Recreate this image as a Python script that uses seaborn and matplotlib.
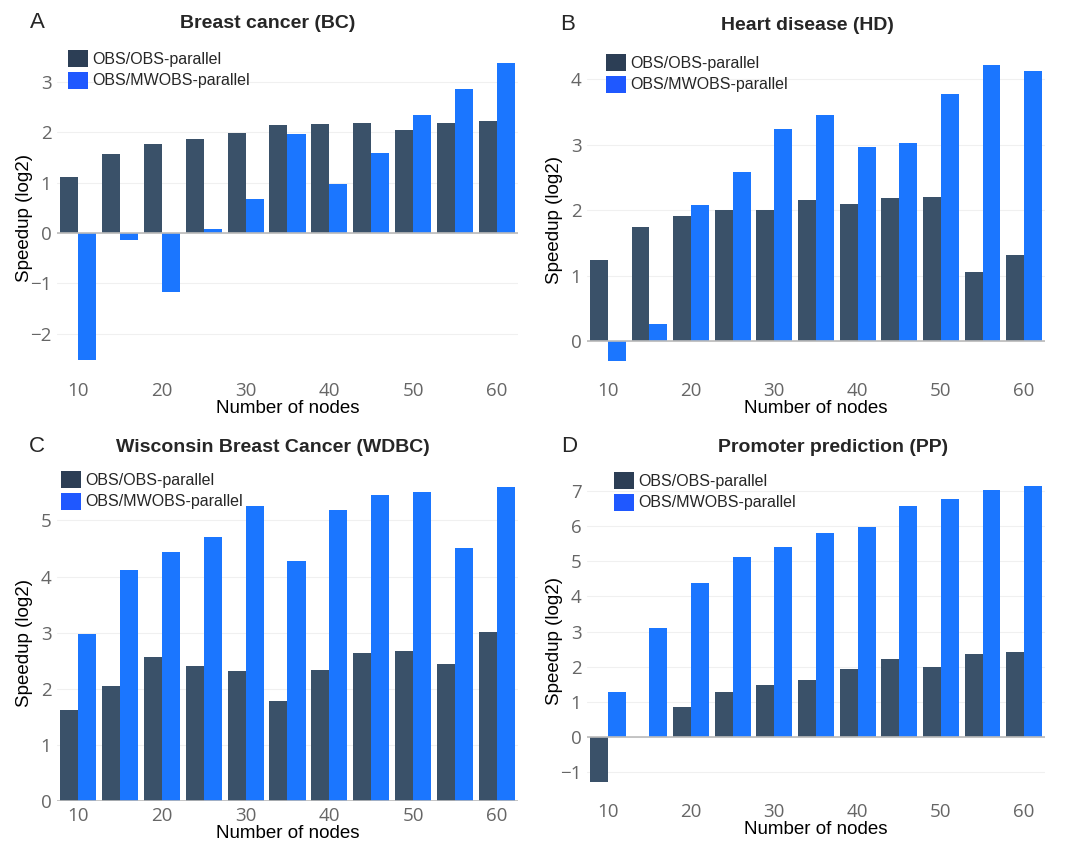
import matplotlib
matplotlib.use('Agg')
import matplotlib.pyplot as plt
import seaborn as sns
import pandas as pd

# number of nodes on the x axis
nodes = [10, 15, 20, 25, 30, 35, 40, 45, 50, 55, 60]
series_names = ['OBS/OBS-parallel', 'OBS/MWOBS-parallel']

# panel A - Breast cancer (BC)
bc_obs = [1.11, 1.56, 1.76, 1.86, 1.99, 2.15, 2.17, 2.19, 2.05, 2.18, 2.22]
bc_mwobs = [-2.53, -0.15, -1.18, 0.08, 0.67, 1.96, 0.97, 1.58, 2.35, 2.85, 3.38]

# panel B - Heart disease (HD)
hd_obs = [1.24, 1.75, 1.91, 2.00, 2.00, 2.155, 2.09, 2.19, 2.21, 1.06, 1.32]
hd_mwobs = [-0.30, 0.265, 2.08, 2.59, 3.25, 3.45, 2.97, 3.03, 3.78, 4.22, 4.13]

# panel C - Wisconsin Breast Cancer (WDBC)
wdbc_obs = [1.62, 2.05, 2.56, 2.41, 2.31, 1.79, 2.34, 2.64, 2.68, 2.44, 3.01]
wdbc_mwobs = [2.97, 4.12, 4.44, 4.71, 5.25, 4.28, 5.18, 5.46, 5.51, 4.51, 5.59]

# panel D - Promoter prediction (PP)
pp_obs = [-1.29, 0.01, 0.845, 1.29, 1.48, 1.63, 1.92, 2.21, 2.00, 2.36, 2.41]
pp_mwobs = [1.28, 3.11, 4.37, 5.12, 5.41, 5.80, 5.97, 6.57, 6.78, 7.04, 7.15]

BAR_COLORS = ['#3a5169', '#1b76ff']
LEGEND_COLORS = ['#2c3e55', '#1f58ff']
TICK_FONT = 'Open Sans'
TEXT_FONT = 'Liberation Sans'


def long_frame(obs, mwobs):
    return pd.DataFrame({
        'nodes': nodes * 2,
        'speedup': list(obs) + list(mwobs),
        'series': [series_names[0]] * len(nodes) + [series_names[1]] * len(nodes),
    })


sns.set_theme(style='white')
plt.rcParams['font.family'] = [TEXT_FONT, 'DejaVu Sans']

fig = plt.figure(figsize=(10.73, 8.44), dpi=100)
W, H = 1073.0, 844.0

# (left, right, top, bottom) in pixels, y range, ticks, title, letter info
panels = [
    dict(box=(57, 518, 47, 376), data=(bc_obs, bc_mwobs), ylim=(-2.84, 3.69),
         yticks=[-2, -1, 0, 1, 2, 3], title='Breast cancer (BC)', title_xy=(268, 23),
         letter='A', letter_xy=(37, 22), legend_xy=(68, 50), ylabel_x=33),
    dict(box=(587, 1045, 50, 376), data=(hd_obs, hd_mwobs), ylim=(-0.53, 4.45),
         yticks=[0, 1, 2, 3, 4], title='Heart disease (HD)', title_xy=(807, 26),
         letter='B', letter_xy=(568, 25), legend_xy=(606, 54), ylabel_x=563),
    dict(box=(57, 518, 471, 801), data=(wdbc_obs, wdbc_mwobs), ylim=(0, 5.88),
         yticks=[0, 1, 2, 3, 4, 5], title='Wisconsin Breast Cancer (WDBC)', title_xy=(273, 447),
         letter='C', letter_xy=(37, 447), legend_xy=(61, 471), ylabel_x=33),
    dict(box=(587, 1045, 471, 797), data=(pp_obs, pp_mwobs), ylim=(-1.71, 7.57),
         yticks=[-1, 0, 1, 2, 3, 4, 5, 6, 7], title='Promoter prediction (PP)', title_xy=(833, 447),
         letter='D', letter_xy=(569, 447), legend_xy=(614, 472), ylabel_x=563),
]

for p in panels:
    l, r, t, b = p['box']
    ax = fig.add_axes([l / W, (H - b) / H, (r - l) / W, (b - t) / H])
    df = long_frame(*p['data'])
    sns.barplot(data=df, x='nodes', y='speedup', hue='series', hue_order=series_names,
                palette=BAR_COLORS, saturation=1, native_scale=True, width=0.86,
                linewidth=0, errorbar=None, ax=ax, zorder=2)

    ax.set_xlim(7.5, 62.5)
    ax.set_ylim(*p['ylim'])
    ax.set_xticks([10, 20, 30, 40, 50, 60])
    ax.set_yticks(p['yticks'])
    ax.set_yticklabels(['\u2212' + str(abs(v)) if v < 0 else str(v) for v in p['yticks']])
    for lab in ax.get_xticklabels() + ax.get_yticklabels():
        lab.set_fontfamily(TICK_FONT)
        lab.set_fontsize(13.5)
        lab.set_color('#666666')
    ax.tick_params(axis='both', length=0, pad=4)

    for s in ax.spines.values():
        s.set_visible(False)
    ax.grid(axis='y', color='#f0f0f0', linewidth=0.8, zorder=0)
    ax.grid(axis='x', visible=False)
    ax.axhline(0, color='#bbbbbb', linewidth=1.2, zorder=3)

    ax.set_xlabel('Number of nodes', fontsize=13.5, color='black', labelpad=0)
    ax.set_ylabel('Speedup (log2)', fontsize=13.5, color='black')
    ax.yaxis.set_label_coords((p['ylabel_x'] - l) / (r - l), 0.48)

    # legend drawn inside the plot, top left
    leg = ax.legend(loc='upper left', bbox_to_anchor=((p['legend_xy'][0] - l) / (r - l),
                                                       1 - (p['legend_xy'][1] - t) / (b - t)),
                    frameon=False, fontsize=11.5, handlelength=1.25, handleheight=1.25,
                    handletextpad=0.25, labelspacing=0.3, borderaxespad=0, borderpad=0)
    for h, c in zip(leg.legend_handles, LEGEND_COLORS):
        h.set_facecolor(c)
        h.set_edgecolor('none')

    fig.text(p['title_xy'][0] / W, 1 - p['title_xy'][1] / H, p['title'],
             ha='center', va='center', fontsize=14, fontweight='bold')
    fig.text(p['letter_xy'][0] / W, 1 - p['letter_xy'][1] / H, p['letter'],
             ha='center', va='center', fontsize=16)

fig.savefig('out.png', dpi=100, facecolor='white')
